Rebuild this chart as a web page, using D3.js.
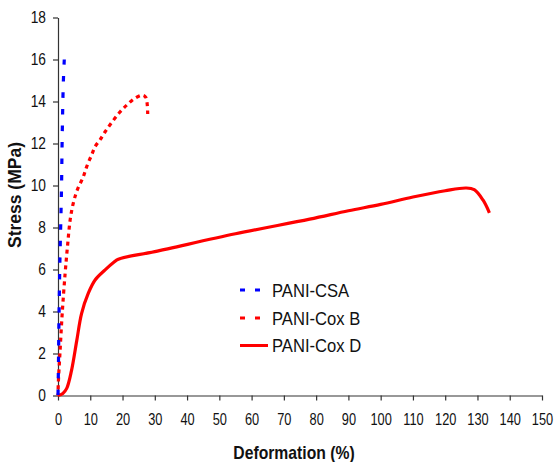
<!DOCTYPE html>
<html>
<head>
<meta charset="utf-8">
<script src="https://cdn.jsdelivr.net/npm/d3@7"></script>
<style>
  body { margin: 0; background: #fff; }
  text { font-family: "Liberation Sans", Arial, sans-serif; }
</style>
</head>
<body>
<div id="frame"></div>
<script>
const width = 555
const height = 462
const margin = { top: 17.5, right: 13, bottom: 66.5, left: 58 }

// stress-strain curves: [deformation %, stress MPa]
const panicsa = [
  [0, 0], [0.1, 1], [0.3, 3.6], [0.6, 6.5], [0.9, 8.5], [1.1, 10],
  [1.3, 12.3], [1.65, 14.9], [1.95, 16]
]
const panicoxB = [
  [0, 0], [0.1, 0.6], [0.6, 2.0], [1.3, 3.9], [2.2, 5.8], [3.0, 7.2],
  [3.8, 8.4], [4.8, 9.2], [6, 9.8], [7.8, 10.4], [8.9, 10.9], [10.4, 11.45],
  [11.5, 11.85], [13, 12.17], [14.6, 12.56], [16.6, 12.99], [19.2, 13.5],
  [21.3, 13.83], [23.8, 14.15], [26.1, 14.3], [27.2, 14.2], [27.8, 13.4]
]
const panicoxD = [
  [0, 0], [1.5, 0.1], [2.7, 0.34], [4.2, 1.2], [5.8, 2.6], [7.3, 3.9],
  [9.4, 4.87], [11.5, 5.5], [14.6, 5.98], [17.2, 6.33], [18.7, 6.49], [30, 6.85],
  [55, 7.7], [78, 8.4], [90, 8.8], [100, 9.1], [110, 9.45], [120, 9.75],
  [126.5, 9.88], [129, 9.8], [131.7, 9.31], [133.7, 8.7]
]

const xTicks = d3.range(0, 151, 10)
const yTicks = d3.range(0, 19, 2)

const series = [
  { name: 'PANI-CSA', data: panicsa, color: '#0000ff', dash: [5.5, 11], legendDash: '5,10' },
  { name: 'PANI-Cox B', data: panicoxB, color: '#ff0000', dash: [4, 4], legendDash: '5,10' },
  { name: 'PANI-Cox D', data: panicoxD, color: '#ff0000', dash: null, legendDash: null }
]

const axisColor = '#333'

const x = d3.scaleLinear()
  .domain([0, 150])
  .range([margin.left, width - margin.right])

const y = d3.scaleLinear()
  .domain([0, 18])
  .range([height - margin.bottom, margin.top])

const svg = d3.select('#frame')
  .append('svg')
  .attr('width', width)
  .attr('height', height)

// axes
const xAxis = svg.append('g')
  .attr('transform', `translate(0,${y(0)})`)
  .call(d3.axisBottom(x).tickValues(xTicks).tickSize(5).tickPadding(13).tickSizeOuter(0))

const yAxis = svg.append('g')
  .attr('transform', `translate(${x(0)},0)`)
  .call(d3.axisLeft(y).tickValues(yTicks).tickSize(5).tickPadding(9).tickSizeOuter(0))

;[xAxis, yAxis].forEach((g) => {
  g.select('.domain').attr('stroke', axisColor).attr('stroke-width', 1.2)
  g.selectAll('.tick line').attr('stroke', axisColor).attr('stroke-width', 1.2)
  g.selectAll('.tick text')
    .attr('fill', '#111')
    .style('font-size', '16px')
    .style('font-family', '"Liberation Sans", Arial, sans-serif')
})
xAxis.selectAll('.tick text').attr('transform', 'scale(0.8,1)')
yAxis.selectAll('.tick text').attr('transform', 'scale(0.86,1)')

// curves
const line = d3.line()
  .x(d => x(d[0]))
  .y(d => y(d[1]))
  .curve(d3.curveCatmullRom.alpha(0.5))

const paths = svg.append('g')
  .selectAll('path')
  .data(series.slice().reverse())
  .join('path')
  .attr('d', d => line(d.data))
  .attr('fill', 'none')
  .attr('stroke', d => d.color)
  .attr('stroke-width', 3.2)
  .attr('stroke-dasharray', d => d.dash ? d.dash.join(',') : null)

// shift the dash pattern so each dashed curve ends on a dash
paths.filter(d => d.dash).each(function (d) {
  const len = this.getTotalLength()
  const period = d.dash[0] + d.dash[1]
  const offset = ((d.dash[0] - len) % period + period) % period
  d3.select(this).attr('stroke-dashoffset', offset)
})

// legend
const legendRows = [290, 318, 345.5]
const legend = svg.append('g')
series.forEach((s, i) => {
  const ly = legendRows[i]
  legend.append('line')
    .attr('x1', 240)
    .attr('x2', s.legendDash ? 260 : 268)
    .attr('y1', ly)
    .attr('y2', ly)
    .attr('stroke', s.color)
    .attr('stroke-width', 3)
    .attr('stroke-dasharray', s.legendDash)
  legend.append('text')
    .attr('transform', `translate(272,${ly + 6.5}) scale(0.95,1)`)
    .style('font-size', '17.5px')
    .attr('fill', '#111')
    .text(s.name)
})

// axis titles
svg.append('text')
  .attr('transform', `translate(294,459) scale(0.85,1)`)
  .attr('text-anchor', 'middle')
  .style('font-size', '18.5px')
  .style('font-weight', 'bold')
  .attr('fill', '#111')
  .text('Deformation (%)')

svg.append('text')
  .attr('transform', `translate(21,195) rotate(-90)`)
  .attr('text-anchor', 'middle')
  .style('font-size', '17.5px')
  .style('font-weight', 'bold')
  .attr('fill', '#111')
  .text('Stress (MPa)')
</script>
</body>
</html>
